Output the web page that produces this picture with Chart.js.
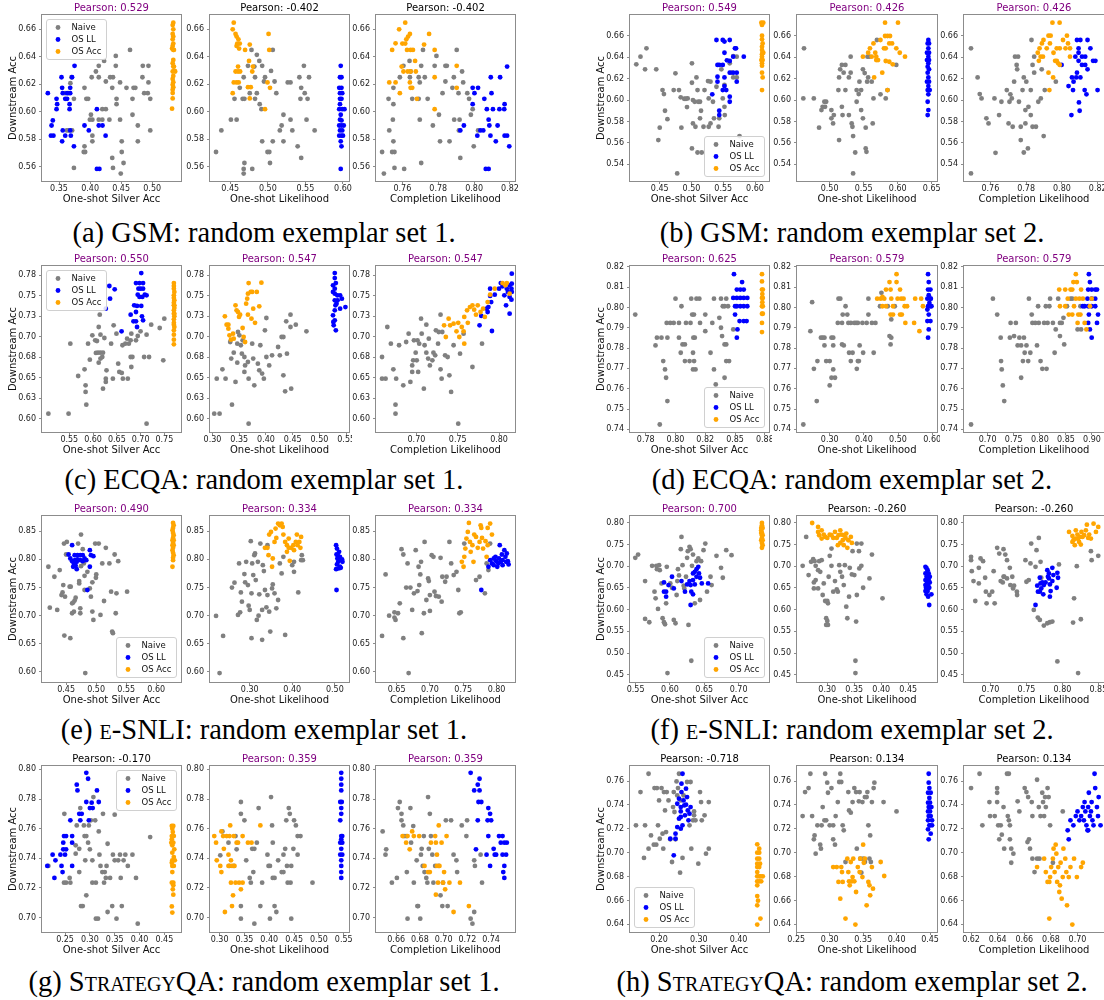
<!DOCTYPE html>
<html><head><meta charset="utf-8">
<script src="https://cdn.jsdelivr.net/npm/chart.js@4.4.1/dist/chart.umd.min.js"></script>
<style>
html,body{margin:0;padding:0;background:#fff;}
body{position:relative;width:1104px;height:1000px;overflow:hidden;}
canvas{position:absolute;}
.cap{position:absolute;font-family:'Liberation Serif','Times New Roman',serif;font-size:28.5px;line-height:32px;white-space:nowrap;color:#000;transform:translateX(-50%);}
.sc{font-variant:small-caps;}
</style></head><body>
<script>
// ---------------- DATA ----------------
const seriesNames = ['Naive','OS LL','OS Acc'];
const xTitles = ['One-shot Silver Acc','One-shot Likelihood','Completion Likelihood'];

// (a) GSM set 1
const a_yTicks=[0.56,0.58,0.60,0.62,0.64,0.66];
const a1_xTicks=[0.35,0.40,0.45,0.50], a2_xTicks=[0.45,0.50,0.55,0.60], a3_xTicks=[0.76,0.78,0.80,0.82];
const a1_naive=[[0.3597,0.6135],[0.3654,0.6135],[0.3683,0.6208],[0.37,0.6251],[0.3626,0.5864],[0.3654,0.5864],[0.3711,0.5864],[0.374,0.6094],[0.391,0.6174],[0.394,0.6094],[0.3969,0.6094],[0.4026,0.6251],[0.4014,0.5978],[0.4037,0.5942],[0.4037,0.5826],[0.3997,0.5942],[0.391,0.5748],[0.3898,0.5707],[0.3921,0.5707],[0.374,0.5591],[0.4094,0.6293],[0.414,0.6334],[0.4226,0.637],[0.414,0.6251],[0.4254,0.622],[0.4197,0.6019],[0.414,0.5942],[0.4197,0.5942],[0.4311,0.5942],[0.4254,0.6019],[0.4323,0.6251],[0.4369,0.6251],[0.4357,0.6174],[0.4426,0.6094],[0.4426,0.6055],[0.4414,0.6334],[0.4414,0.6406],[0.4483,0.6213],[0.4483,0.5942],[0.451,0.5785],[0.451,0.5707],[0.4539,0.5627],[0.4357,0.5664],[0.4369,0.5591],[0.4494,0.555],[0.4643,0.645],[0.4586,0.6174],[0.47,0.6174],[0.4729,0.6174],[0.4683,0.6094],[0.4683,0.5978],[0.4769,0.59],[0.4769,0.5785],[0.4849,0.6334],[0.494,0.6334],[0.4843,0.6251],[0.4871,0.6135],[0.4929,0.6135],[0.494,0.6213],[0.4969,0.6094],[0.4969,0.5864],[0.4037,0.5785]];
const a1_ll=[[0.332,0.6135],[0.346,0.6094],[0.347,0.6055],[0.346,0.6019],[0.340,0.5937],[0.338,0.59],[0.341,0.5826],[0.337,0.5826],[0.354,0.6251],[0.355,0.6174],[0.356,0.6135],[0.363,0.6135],[0.360,0.6094],[0.363,0.6094],[0.368,0.6135],[0.368,0.6174],[0.367,0.6055],[0.367,0.6019],[0.371,0.6251],[0.375,0.6334],[0.356,0.5864],[0.360,0.5826],[0.355,0.5785],[0.368,0.5864],[0.369,0.5826],[0.374,0.5748],[0.391,0.59],[0.398,0.5864],[0.411,0.6019],[0.414,0.59],[0.420,0.59],[0.425,0.5826],[0.411,0.5584],[0.415,0.5584]];
const a1_acc=[[0.534,0.6648],[0.533,0.6631],[0.534,0.66],[0.533,0.6566],[0.534,0.6547],[0.533,0.6527],[0.534,0.6496],[0.533,0.6479],[0.532,0.646],[0.535,0.645],[0.534,0.645],[0.534,0.6377],[0.533,0.6353],[0.534,0.6329],[0.536,0.6297],[0.533,0.6293],[0.534,0.6261],[0.533,0.6239],[0.534,0.6215],[0.533,0.6196],[0.534,0.6179],[0.533,0.616],[0.533,0.6136],[0.533,0.6097],[0.532,0.6022],[0.537,0.6293],[0.535,0.6329]];
const a2_naive=[[0.4311,0.5707],[0.4382,0.5864],[0.4509,0.5942],[0.4585,0.5942],[0.4557,0.6094],[0.4627,0.6174],[0.4679,0.6251],[0.4736,0.6334],[0.4783,0.645],[0.4854,0.6414],[0.4887,0.637],[0.4925,0.6334],[0.4821,0.6329],[0.483,0.6251],[0.4963,0.6251],[0.4949,0.622],[0.5043,0.6297],[0.5066,0.645],[0.4689,0.6094],[0.4665,0.6094],[0.476,0.6135],[0.4854,0.6135],[0.483,0.6094],[0.4892,0.6055],[0.4915,0.6019],[0.4689,0.5627],[0.4679,0.5584],[0.4679,0.555],[0.4793,0.5584],[0.4925,0.5785],[0.4996,0.5707],[0.502,0.5707],[0.5029,0.5627],[0.5066,0.5785],[0.509,0.622],[0.5113,0.6135],[0.516,0.5864],[0.5208,0.5978],[0.5208,0.5785],[0.5184,0.59],[0.5265,0.6213],[0.5302,0.6213],[0.5302,0.5942],[0.5326,0.5864],[0.5397,0.5748],[0.542,0.6251],[0.5444,0.6174],[0.5434,0.6094],[0.5444,0.5664],[0.548,0.6334],[0.5491,0.6135],[0.5515,0.5942],[0.5529,0.6094],[0.5548,0.6251],[0.5623,0.5864]];
const a2_ll=[[0.597,0.6334],[0.596,0.6251],[0.598,0.6251],[0.595,0.6174],[0.598,0.6174],[0.596,0.6135],[0.599,0.6135],[0.596,0.6094],[0.598,0.6094],[0.596,0.6055],[0.595,0.6019],[0.599,0.6019],[0.602,0.6019],[0.597,0.5978],[0.596,0.5942],[0.598,0.5937],[0.595,0.59],[0.598,0.59],[0.601,0.59],[0.596,0.5864],[0.599,0.5864],[0.595,0.5826],[0.598,0.5826],[0.600,0.5826],[0.597,0.5785],[0.598,0.5748],[0.597,0.5584]];
const a2_acc=[[0.4547,0.6648],[0.4533,0.66],[0.4571,0.6566],[0.4585,0.6547],[0.4609,0.6527],[0.4594,0.6496],[0.4627,0.6496],[0.4585,0.6479],[0.4618,0.646],[0.4698,0.645],[0.4604,0.6329],[0.4571,0.6293],[0.4604,0.6293],[0.4632,0.6293],[0.4547,0.6213],[0.4585,0.6213],[0.4613,0.6213],[0.4533,0.6135],[0.476,0.6489],[0.475,0.637],[0.4793,0.6293],[0.4802,0.6329],[0.4736,0.6179],[0.4774,0.6179],[0.476,0.6097],[0.4996,0.6213],[0.501,0.6566],[0.5019,0.645],[0.5029,0.6174],[0.4963,0.6019]];
const a3_naive=[[0.7487,0.5707],[0.7497,0.555],[0.755,0.5785],[0.7543,0.5707],[0.7556,0.5707],[0.7556,0.5591],[0.755,0.6174],[0.7523,0.6094],[0.7527,0.5864],[0.755,0.6055],[0.7547,0.5942],[0.761,0.5584],[0.7586,0.6251],[0.7606,0.6334],[0.764,0.637],[0.7646,0.6293],[0.7642,0.6251],[0.7655,0.6094],[0.7691,0.6251],[0.7697,0.6213],[0.7691,0.6094],[0.7705,0.6334],[0.7715,0.645],[0.7697,0.5942],[0.7705,0.5627],[0.7725,0.6251],[0.7741,0.6094],[0.777,0.59],[0.778,0.6334],[0.779,0.6406],[0.7804,0.5978],[0.781,0.5785],[0.7824,0.6135],[0.784,0.6334],[0.7848,0.6334],[0.784,0.622],[0.7863,0.5785],[0.7879,0.6174],[0.7887,0.6251],[0.7889,0.5942],[0.7903,0.645],[0.7913,0.6135],[0.7919,0.5942],[0.7915,0.5864],[0.7923,0.5664],[0.7939,0.6213],[0.7962,0.6135],[0.7972,0.6094],[0.7982,0.5978],[0.7992,0.6019],[0.7998,0.5748],[0.8022,0.5864],[0.7933,0.6293]];
const a3_ll=[[0.7923,0.5864],[0.7943,0.59],[0.7992,0.6055],[0.7992,0.6174],[0.8002,0.6135],[0.8022,0.6174],[0.8018,0.5826],[0.8051,0.5864],[0.8057,0.6094],[0.8071,0.6019],[0.8081,0.5942],[0.8085,0.59],[0.8091,0.5826],[0.8097,0.6135],[0.8093,0.6251],[0.8105,0.6019],[0.8121,0.5785],[0.8131,0.59],[0.8145,0.6251],[0.8141,0.6019],[0.8168,0.6019],[0.817,0.6055],[0.817,0.5826],[0.8184,0.5826],[0.8184,0.6329],[0.8196,0.5748],[0.8065,0.5584],[0.8081,0.5584],[0.8035,0.5864]];
const a3_acc=[[0.7616,0.6648],[0.7582,0.66],[0.7562,0.6498],[0.7543,0.645],[0.76,0.6496],[0.7616,0.6496],[0.7622,0.6527],[0.7632,0.6547],[0.7642,0.6566],[0.7626,0.645],[0.7646,0.645],[0.7659,0.645],[0.7596,0.6329],[0.7606,0.6293],[0.763,0.6293],[0.7646,0.6293],[0.7675,0.6293],[0.7527,0.6213],[0.7562,0.6213],[0.7642,0.6213],[0.7646,0.6174],[0.7655,0.6174],[0.7671,0.637],[0.7586,0.6135],[0.7721,0.6489],[0.778,0.645],[0.778,0.6251],[0.7749,0.6566],[0.7681,0.6094],[0.778,0.6019],[0.7903,0.6334],[0.7903,0.6174]];

// (b) GSM set 2
const b_yTicks=[0.54,0.56,0.58,0.60,0.62,0.64,0.66];
const b1_xTicks=[0.45,0.50,0.55,0.60], b2_xTicks=[0.50,0.55,0.60,0.65], b3_xTicks=[0.76,0.78,0.80,0.82];
const b1_naive=[[0.4131,0.6333],[0.4197,0.6404],[0.4291,0.6482],[0.4269,0.6286],[0.4445,0.6286],[0.4478,0.5627],[0.45,0.5742],[0.4544,0.6093],[0.4566,0.6056],[0.4583,0.59],[0.4621,0.5822],[0.472,0.6093],[0.4747,0.6249],[0.4803,0.6093],[0.483,0.6025],[0.4841,0.5742],[0.4885,0.6012],[0.4913,0.6012],[0.4929,0.5934],[0.494,0.6015],[0.5007,0.6342],[0.5007,0.6161],[0.5023,0.60],[0.5007,0.5549],[0.5023,0.5782],[0.5051,0.5984],[0.5062,0.5751],[0.5078,0.6211],[0.5095,0.6093],[0.5106,0.5984],[0.5134,0.5984],[0.5134,0.5829],[0.515,0.59],[0.5095,0.5511],[0.5161,0.5511],[0.5189,0.5751],[0.5205,0.6093],[0.526,0.6177],[0.5299,0.6171],[0.5271,0.6015],[0.5271,0.5751],[0.5299,0.5782],[0.5338,0.5984],[0.5354,0.5829],[0.5393,0.6124],[0.5437,0.5829],[0.5426,0.5751],[0.547,0.6286],[0.5492,0.6015],[0.5519,0.614],[0.5524,0.586],[0.5519,0.5937],[0.5602,0.6342],[0.563,0.6255],[0.5657,0.6211],[0.5657,0.641],[0.5712,0.6404],[0.5712,0.6211],[0.5756,0.5664],[0.4775,0.5316]];
const b1_ll=[[0.5393,0.656],[0.5492,0.656],[0.5519,0.6545],[0.5602,0.656],[0.5409,0.6327],[0.5437,0.6327],[0.5492,0.6327],[0.5519,0.6441],[0.5558,0.637],[0.5602,0.6364],[0.5657,0.6404],[0.5701,0.6482],[0.5684,0.6482],[0.5823,0.6404],[0.5409,0.6217],[0.5409,0.6171],[0.5519,0.6211],[0.5602,0.6255],[0.5657,0.6255],[0.5712,0.6255],[0.5712,0.6171],[0.5492,0.6093],[0.5519,0.613],[0.5547,0.6093],[0.5602,0.6031],[0.5602,0.5984],[0.5327,0.6053],[0.5437,0.59],[0.5437,0.586]];
const b1_acc=[[0.610,0.6721],[0.613,0.6721],[0.611,0.67],[0.611,0.66],[0.611,0.6566],[0.612,0.6528],[0.611,0.6497],[0.611,0.6466],[0.612,0.6441],[0.611,0.6428],[0.611,0.6404],[0.612,0.6373],[0.611,0.6342],[0.611,0.632],[0.611,0.6255],[0.612,0.6211],[0.611,0.6093],[0.613,0.6441],[0.610,0.6373]];
const b2_naive=[[0.4614,0.6015],[0.4768,0.6015],[0.4624,0.6482],[0.4845,0.5742],[0.488,0.5906],[0.4897,0.5937],[0.4923,0.5984],[0.4949,0.5984],[0.4933,0.5937],[0.5026,0.5906],[0.5026,0.5829],[0.5051,0.5782],[0.5062,0.586],[0.5129,0.6093],[0.5139,0.6211],[0.5155,0.6286],[0.5139,0.5627],[0.518,0.6327],[0.5232,0.6327],[0.5206,0.6255],[0.518,0.5937],[0.519,0.586],[0.5232,0.6093],[0.5283,0.6211],[0.5283,0.586],[0.5309,0.6255],[0.5324,0.5782],[0.5335,0.5751],[0.5345,0.5664],[0.5376,0.5511],[0.5397,0.6093],[0.5397,0.5984],[0.5427,0.6056],[0.5438,0.6171],[0.5463,0.6093],[0.5463,0.5906],[0.5489,0.5829],[0.5489,0.6286],[0.5515,0.6251],[0.553,0.5742],[0.553,0.5549],[0.5541,0.5517],[0.5551,0.6171],[0.5566,0.6211],[0.5556,0.6404],[0.5582,0.6404],[0.5618,0.6171],[0.5644,0.6015],[0.5633,0.5782],[0.5747,0.6053],[0.5824,0.6015],[0.585,0.6093],[0.5979,0.6327],[0.5309,0.6404],[0.5345,0.5316],[0.5695,0.656]];
const b2_ll=[[0.645,0.656],[0.644,0.6528],[0.646,0.6528],[0.645,0.6482],[0.643,0.6441],[0.646,0.6441],[0.645,0.6404],[0.643,0.6373],[0.646,0.6373],[0.645,0.6342],[0.644,0.6311],[0.646,0.6286],[0.644,0.6255],[0.645,0.6211],[0.643,0.6171],[0.646,0.6171],[0.645,0.613],[0.644,0.6093],[0.647,0.6093],[0.645,0.6053],[0.644,0.5984],[0.645,0.5906],[0.644,0.586]];
const b2_acc=[[0.5489,0.6404],[0.5566,0.6441],[0.5592,0.6482],[0.5644,0.6528],[0.5618,0.6404],[0.567,0.6441],[0.5685,0.6404],[0.5685,0.6373],[0.5711,0.6373],[0.5747,0.656],[0.5798,0.6482],[0.5824,0.6482],[0.5814,0.6597],[0.585,0.6597],[0.5814,0.6721],[0.5887,0.6597],[0.5876,0.6528],[0.5917,0.6528],[0.5979,0.6482],[0.5927,0.6333],[0.5824,0.6364],[0.5773,0.6255],[0.5654,0.6211],[0.603,0.6441],[0.6004,0.6721],[0.6107,0.6404],[0.585,0.6093],[0.5876,0.6357]];
const b3_naive=[[0.7492,0.6482],[0.7492,0.5316],[0.7529,0.6211],[0.7541,0.6056],[0.7551,0.6015],[0.7578,0.5829],[0.759,0.5782],[0.7629,0.5508],[0.7623,0.6015],[0.7649,0.586],[0.7662,0.5984],[0.7692,0.6093],[0.7702,0.5782],[0.7707,0.5984],[0.7712,0.6053],[0.772,0.6015],[0.7725,0.5751],[0.7733,0.6171],[0.7747,0.6327],[0.775,0.6286],[0.7755,0.6404],[0.7738,0.6404],[0.776,0.5984],[0.777,0.5627],[0.777,0.5751],[0.778,0.6093],[0.7787,0.6211],[0.7787,0.5511],[0.7796,0.5906],[0.7796,0.5782],[0.7801,0.6171],[0.781,0.5549],[0.7813,0.5937],[0.7826,0.6093],[0.7826,0.586],[0.7836,0.5751],[0.7836,0.6327],[0.7845,0.6404],[0.7845,0.6255],[0.7855,0.5751],[0.7868,0.5984],[0.7882,0.6015],[0.7898,0.5664],[0.7904,0.6093],[0.7887,0.6286],[0.7966,0.6171],[0.783,0.656]];
const b3_ll=[[0.8084,0.656],[0.8103,0.656],[0.8143,0.656],[0.8093,0.6482],[0.8159,0.6482],[0.8093,0.6441],[0.8112,0.6404],[0.813,0.6404],[0.8075,0.6404],[0.8093,0.6366],[0.8174,0.6366],[0.8187,0.6366],[0.8112,0.6327],[0.813,0.6327],[0.8143,0.6286],[0.8084,0.6255],[0.8056,0.6211],[0.808,0.6211],[0.8103,0.6211],[0.8065,0.6171],[0.8037,0.613],[0.8062,0.6093],[0.8127,0.6093],[0.8137,0.6053],[0.8199,0.6093],[0.8095,0.5978],[0.8099,0.59],[0.8053,0.586],[0.7998,0.6327]];
const b3_acc=[[0.7947,0.6721],[0.7987,0.6721],[0.7925,0.66],[0.7937,0.66],[0.7897,0.656],[0.7888,0.6528],[0.7875,0.6482],[0.7865,0.6441],[0.7915,0.6482],[0.7933,0.6528],[0.7971,0.6482],[0.7988,0.6482],[0.8006,0.656],[0.8028,0.66],[0.8034,0.6528],[0.802,0.6482],[0.8045,0.6482],[0.7953,0.6441],[0.7894,0.6404],[0.7871,0.6366],[0.7962,0.6366],[0.7971,0.6366],[0.7979,0.6342],[0.7988,0.6327],[0.8045,0.6404],[0.7925,0.6255],[0.7951,0.6211],[0.793,0.6093],[0.7881,0.6404]];

// (c) ECQA set 1
const c_yTicks=[0.600,0.625,0.650,0.675,0.700,0.725,0.750,0.775];
const c_yLabels=['0.60','0.63','0.65','0.68','0.70','0.73','0.75','0.78'];
const c1_xTicks=[0.55,0.60,0.65,0.70,0.75], c2_xTicks=[0.30,0.35,0.40,0.45,0.50,0.55], c3_xTicks=[0.70,0.75,0.80];
const c1_naive=[[0.506,0.6061],[0.5485,0.6061],[0.5522,0.6916],[0.5687,0.6521],[0.5821,0.6602],[0.5843,0.6407],[0.5843,0.6326],[0.5858,0.6171],[0.5895,0.6916],[0.5932,0.672],[0.5985,0.7017],[0.6045,0.6956],[0.6082,0.6948],[0.6104,0.6806],[0.6156,0.7025],[0.6119,0.7119],[0.6141,0.727],[0.606,0.6802],[0.6119,0.6684],[0.6156,0.6733],[0.6194,0.6753],[0.6156,0.6806],[0.6209,0.6806],[0.6209,0.6366],[0.6268,0.6488],[0.6268,0.6448],[0.6283,0.659],[0.6238,0.6985],[0.638,0.6916],[0.6433,0.7139],[0.6492,0.7038],[0.6529,0.6671],[0.6417,0.6488],[0.6552,0.657],[0.6604,0.6558],[0.6619,0.6896],[0.6627,0.6488],[0.6679,0.6916],[0.6716,0.6977],[0.6753,0.6916],[0.6791,0.6956],[0.6805,0.7038],[0.6731,0.6488],[0.6791,0.6753],[0.6828,0.6753],[0.6805,0.6631],[0.6903,0.6956],[0.694,0.7009],[0.6999,0.7066],[0.7074,0.6753],[0.7126,0.7025],[0.7178,0.6753],[0.7126,0.5939],[0.7223,0.7148],[0.7402,0.7107],[0.7477,0.6712],[0.7499,0.7221]];
const c1_ll=[[0.6343,0.762],[0.6455,0.7579],[0.6358,0.7465],[0.6268,0.7343],[0.7014,0.7778],[0.6903,0.7656],[0.6977,0.7656],[0.7052,0.7656],[0.6955,0.7587],[0.6999,0.7587],[0.7052,0.7587],[0.694,0.7514],[0.6977,0.7486],[0.7037,0.7486],[0.7089,0.7514],[0.7126,0.7506],[0.6865,0.7384],[0.6925,0.7376],[0.7014,0.7376],[0.6791,0.727],[0.6903,0.7302],[0.7029,0.725],[0.685,0.7188],[0.6903,0.7188],[0.6925,0.7119],[0.7052,0.7201],[0.66,0.7066]];
const c1_acc=[[0.770,0.7656],[0.770,0.762],[0.770,0.7587],[0.771,0.7547],[0.770,0.7506],[0.770,0.7473],[0.771,0.7445],[0.770,0.7416],[0.770,0.7384],[0.771,0.7351],[0.770,0.7323],[0.770,0.7282],[0.771,0.725],[0.770,0.7213],[0.770,0.717],[0.770,0.7148],[0.771,0.7119],[0.770,0.7078],[0.770,0.7026],[0.770,0.6964],[0.770,0.6908],[0.771,0.7384],[0.771,0.7282]];
const c2_naive=[[0.3033,0.6061],[0.3133,0.6061],[0.308,0.6488],[0.3186,0.6602],[0.3245,0.6488],[0.3332,0.6936],[0.3351,0.6733],[0.3365,0.6171],[0.3431,0.6448],[0.3398,0.6806],[0.3464,0.6916],[0.3477,0.7058],[0.3504,0.7017],[0.353,0.6896],[0.3564,0.6956],[0.355,0.6794],[0.3464,0.6684],[0.3597,0.6753],[0.361,0.665],[0.3597,0.657],[0.3663,0.6692],[0.3676,0.6488],[0.3676,0.5939],[0.3743,0.6916],[0.3762,0.6733],[0.3782,0.6407],[0.3849,0.6671],[0.3875,0.659],[0.3895,0.6896],[0.3928,0.655],[0.3961,0.6488],[0.3981,0.7078],[0.4008,0.7229],[0.4008,0.6753],[0.4061,0.665],[0.4114,0.6773],[0.4227,0.6875],[0.426,0.6773],[0.4293,0.6997],[0.4326,0.6997],[0.4326,0.6529],[0.4359,0.6334],[0.4393,0.6794],[0.4379,0.7188],[0.4459,0.727],[0.4459,0.7119],[0.4472,0.6366],[0.4558,0.7148],[0.4757,0.7066]];
const c2_ll=[[0.5287,0.7778],[0.5287,0.7717],[0.5307,0.7656],[0.5254,0.7628],[0.5287,0.7587],[0.5254,0.7547],[0.5287,0.7526],[0.5334,0.7506],[0.5387,0.7506],[0.542,0.7465],[0.5287,0.7445],[0.532,0.7404],[0.5387,0.7343],[0.5486,0.7363],[0.5287,0.7323],[0.5254,0.7262],[0.5287,0.7201],[0.5267,0.714],[0.5307,0.7078],[0.53,0.7384],[0.534,0.7445],[0.526,0.718]];
const c2_acc=[[0.3232,0.725],[0.3265,0.7148],[0.3298,0.7148],[0.3318,0.7017],[0.3298,0.7099],[0.3345,0.6964],[0.3385,0.7038],[0.3398,0.6977],[0.3431,0.7384],[0.3451,0.7323],[0.3477,0.7302],[0.3497,0.7242],[0.3517,0.727],[0.3564,0.7107],[0.3583,0.6997],[0.361,0.6936],[0.363,0.7404],[0.365,0.7465],[0.3663,0.7526],[0.3676,0.7656],[0.3716,0.7547],[0.3743,0.7547],[0.3762,0.7343],[0.3729,0.7221],[0.3796,0.717],[0.3829,0.7547],[0.3915,0.766],[0.3875,0.7372],[0.3663,0.727]];
const c3_naive=[[0.6584,0.6753],[0.6584,0.6488],[0.6627,0.6488],[0.6648,0.7119],[0.6691,0.6916],[0.6721,0.6602],[0.6747,0.6171],[0.6747,0.6061],[0.6755,0.6488],[0.679,0.6896],[0.6841,0.6407],[0.6876,0.6936],[0.6906,0.7038],[0.6927,0.6448],[0.6949,0.665],[0.6949,0.657],[0.697,0.6956],[0.6961,0.6712],[0.6991,0.6806],[0.7004,0.6712],[0.7013,0.6956],[0.7021,0.657],[0.7034,0.6916],[0.7056,0.7221],[0.7064,0.7038],[0.709,0.6366],[0.7099,0.6896],[0.712,0.7148],[0.712,0.6806],[0.7142,0.6733],[0.715,0.6977],[0.7163,0.665],[0.7193,0.6712],[0.7206,0.6806],[0.7227,0.6773],[0.7236,0.7078],[0.7262,0.6916],[0.727,0.7058],[0.7292,0.727],[0.7292,0.6602],[0.7305,0.6488],[0.7313,0.7058],[0.7347,0.6773],[0.7378,0.6753],[0.7399,0.6529],[0.742,0.6326],[0.745,0.6896],[0.7506,0.5939],[0.7528,0.6794],[0.7571,0.7038],[0.7678,0.6631],[0.7794,0.6916]];
const c3_ll=[[0.7764,0.714],[0.7785,0.7254],[0.785,0.7343],[0.7862,0.7302],[0.7871,0.7363],[0.7892,0.7587],[0.7892,0.7498],[0.7905,0.7424],[0.7914,0.707],[0.7948,0.7514],[0.80,0.7587],[0.8021,0.7656],[0.8042,0.7616],[0.8064,0.7506],[0.8094,0.7587],[0.8107,0.7547],[0.8128,0.7628],[0.8128,0.7486],[0.815,0.7587],[0.815,0.7453],[0.8128,0.7282],[0.8154,0.777],[0.8154,0.7648],[0.8085,0.7384],[0.8154,0.7547]];
const c3_acc=[[0.7335,0.714],[0.739,0.7221],[0.7408,0.714],[0.745,0.716],[0.7506,0.717],[0.7485,0.7066],[0.7549,0.7119],[0.7579,0.7242],[0.7613,0.7323],[0.7648,0.7363],[0.7678,0.7384],[0.7699,0.7331],[0.7721,0.727],[0.7742,0.7384],[0.7776,0.7302],[0.7807,0.7343],[0.7828,0.7242],[0.7862,0.7424],[0.7892,0.7514],[0.7948,0.7587],[0.8042,0.7656],[0.8077,0.7628],[0.8094,0.7656],[0.8128,0.7526],[0.7579,0.6916],[0.7356,0.6997],[0.7519,0.6997],[0.7571,0.7066],[0.7622,0.717]];

// (d) ECQA set 2
const d_yTicks=[0.74,0.75,0.76,0.77,0.78,0.79,0.80,0.81,0.82];
const d1_xTicks=[0.775,0.800,0.825,0.850,0.875], d1_xLabels=['0.78','0.80','0.82','0.85','0.88'];
const d2_xTicks=[0.30,0.40,0.50,0.60], d3_xTicks=[0.70,0.75,0.80,0.85,0.90];
const d1_naive=[[0.7662,0.7965],[0.7832,0.7813],[0.7844,0.7851],[0.7882,0.7851],[0.7897,0.7736],[0.7912,0.7695],[0.7921,0.7654],[0.7932,0.7539],[0.7868,0.7424],[0.7926,0.7924],[0.7932,0.7851],[0.7956,0.7924],[0.80,0.8043],[0.7985,0.7924],[0.8029,0.7924],[0.8029,0.7851],[0.8044,0.7777],[0.8059,0.7818],[0.8079,0.7818],[0.805,0.8006],[0.8088,0.7924],[0.8079,0.7736],[0.8118,0.7736],[0.8132,0.8043],[0.8126,0.7924],[0.814,0.7965],[0.8155,0.7965],[0.815,0.7851],[0.8162,0.7851],[0.8147,0.7777],[0.8147,0.7695],[0.8168,0.7695],[0.8156,0.7736],[0.8176,0.8043],[0.82,0.8043],[0.8206,0.7924],[0.825,0.7965],[0.825,0.7883],[0.8294,0.7777],[0.8309,0.7924],[0.8323,0.8043],[0.8323,0.7695],[0.8338,0.7621],[0.8368,0.7949],[0.8382,0.8043],[0.8382,0.79],[0.8391,0.7859],[0.8397,0.8006],[0.8412,0.8006],[0.8412,0.7818],[0.8426,0.7818],[0.8426,0.7736],[0.8412,0.7654],[0.845,0.7736],[0.8426,0.8043],[0.8441,0.8006],[0.8485,0.7892]];
const d1_ll=[[0.8491,0.8164],[0.8559,0.8125],[0.8515,0.8088],[0.8544,0.8088],[0.8573,0.8088],[0.8485,0.8047],[0.8515,0.8047],[0.8544,0.8047],[0.8573,0.8047],[0.8603,0.8047],[0.85,0.8006],[0.8515,0.8006],[0.8544,0.8006],[0.8573,0.8006],[0.8603,0.8006],[0.85,0.7965],[0.8538,0.7933],[0.8573,0.7933],[0.8597,0.7933],[0.852,0.7892],[0.8515,0.7851]];
const d1_acc=[[0.8726,0.8164],[0.8726,0.8128],[0.8726,0.8088],[0.8733,0.8088],[0.8726,0.8047],[0.8733,0.8047],[0.8726,0.8006],[0.8733,0.8006],[0.8726,0.7969],[0.8733,0.7969],[0.8726,0.7924],[0.8726,0.7879],[0.8729,0.8026],[0.8729,0.8066]];
const d2_naive=[[0.2227,0.7424],[0.2485,0.8026],[0.2434,0.7883],[0.2537,0.7698],[0.264,0.7736],[0.262,0.7539],[0.2743,0.7851],[0.2794,0.7851],[0.2846,0.7851],[0.2846,0.7813],[0.2897,0.7736],[0.30,0.7736],[0.3052,0.7851],[0.3103,0.7851],[0.30,0.7616],[0.3052,0.7654],[0.3103,0.7695],[0.3155,0.7654],[0.3103,0.7813],[0.3237,0.7924],[0.3258,0.8043],[0.331,0.8043],[0.3361,0.7924],[0.3381,0.7965],[0.3361,0.7818],[0.3412,0.7813],[0.3464,0.8006],[0.3515,0.7965],[0.3546,0.7924],[0.3618,0.7924],[0.3567,0.7777],[0.367,0.7777],[0.3618,0.7736],[0.3721,0.7924],[0.3773,0.7924],[0.3824,0.7736],[0.3793,0.7698],[0.3855,0.7736],[0.3876,0.7813],[0.3824,0.7924],[0.3958,0.7924],[0.3979,0.7777],[0.4082,0.7924],[0.4133,0.8043],[0.4133,0.7965],[0.4236,0.7924],[0.4288,0.7777],[0.4339,0.7924],[0.4473,0.8006],[0.4514,0.8072],[0.4803,0.7851],[0.4751,0.7859],[0.4782,0.7818],[0.4803,0.7941],[0.47,0.8006],[0.4906,0.8006]];
const d2_ll=[[0.588,0.8164],[0.590,0.8125],[0.588,0.8088],[0.595,0.8088],[0.590,0.806],[0.586,0.8043],[0.595,0.8043],[0.588,0.8006],[0.594,0.8006],[0.598,0.8006],[0.586,0.799],[0.590,0.7965],[0.586,0.7933],[0.595,0.7933],[0.590,0.7892],[0.588,0.7851],[0.596,0.8043],[0.592,0.8022]];
const d2_acc=[[0.439,0.8043],[0.4494,0.8043],[0.4545,0.8052],[0.4648,0.8088],[0.4597,0.8043],[0.4648,0.8006],[0.4751,0.8125],[0.4782,0.8088],[0.4803,0.8043],[0.4854,0.8006],[0.4545,0.8006],[0.4957,0.8164],[0.4957,0.8125],[0.506,0.8088],[0.4988,0.8043],[0.5091,0.8043],[0.5163,0.8043],[0.5194,0.8006],[0.5112,0.7965],[0.506,0.7965],[0.4854,0.7965],[0.4782,0.7965],[0.5266,0.8006],[0.5503,0.8043],[0.5678,0.8043],[0.573,0.8006],[0.5215,0.7924],[0.5472,0.7924],[0.5627,0.7883]];
const d3_naive=[[0.6682,0.7424],[0.7101,0.8043],[0.7183,0.7965],[0.725,0.7851],[0.7257,0.7736],[0.727,0.7695],[0.7291,0.7616],[0.7318,0.7539],[0.7426,0.7851],[0.744,0.7924],[0.7541,0.7924],[0.7575,0.7813],[0.7608,0.7851],[0.7642,0.7813],[0.7676,0.7736],[0.7696,0.7851],[0.771,0.7777],[0.7744,0.7813],[0.7642,0.7654],[0.7777,0.7736],[0.7791,0.8043],[0.7818,0.7777],[0.7845,0.7965],[0.7858,0.7924],[0.7913,0.7924],[0.7946,0.7813],[0.7967,0.8006],[0.798,0.7924],[0.8014,0.7736],[0.8048,0.7698],[0.8082,0.7924],[0.8115,0.8006],[0.8129,0.7698],[0.8149,0.7924],[0.8183,0.8006],[0.8197,0.8043],[0.8251,0.7924],[0.8284,0.7777],[0.8305,0.7892],[0.8352,0.8043],[0.8386,0.7924],[0.8386,0.7859],[0.842,0.7924],[0.8453,0.7949],[0.8467,0.7818],[0.8521,0.8006],[0.8589,0.8043],[0.8622,0.8043],[0.8724,0.7892],[0.8791,0.7892],[0.8778,0.8006],[0.7507,0.7859]];
const d3_ll=[[0.894,0.8164],[0.896,0.8125],[0.8927,0.8088],[0.8994,0.8088],[0.9062,0.8088],[0.9096,0.8088],[0.8913,0.8043],[0.8994,0.8043],[0.9062,0.8043],[0.8859,0.8006],[0.8927,0.8006],[0.8994,0.8006],[0.9062,0.8006],[0.9116,0.7965],[0.894,0.7965],[0.8927,0.7924],[0.9096,0.7924],[0.8994,0.7851],[0.896,0.7892],[0.8825,0.8006]];
const d3_acc=[[0.8372,0.8088],[0.8487,0.8088],[0.8535,0.8043],[0.8589,0.8088],[0.8643,0.8125],[0.869,0.8164],[0.871,0.8125],[0.8622,0.8088],[0.8386,0.8006],[0.8487,0.8006],[0.8555,0.7965],[0.8622,0.7965],[0.8656,0.8006],[0.869,0.8043],[0.8724,0.7924],[0.8758,0.8043],[0.8778,0.7965],[0.8825,0.8043],[0.8859,0.7924],[0.8893,0.7892],[0.896,0.8006],[0.8994,0.8043],[0.8791,0.8088],[0.8737,0.7965]];

// (e) e-SNLI set 1
const e_yTicks=[0.60,0.65,0.70,0.75,0.80,0.85];
const e1_xTicks=[0.45,0.50,0.55,0.60], e2_xTicks=[0.30,0.40,0.50], e3_xTicks=[0.65,0.70,0.75,0.80];
const e1_naive=[[0.4205,0.7869],[0.4229,0.7143],[0.4305,0.7692],[0.4352,0.7102],[0.4394,0.781],[0.4423,0.7367],[0.4441,0.7414],[0.4453,0.7544],[0.4465,0.8282],[0.4471,0.6647],[0.4482,0.7338],[0.4512,0.8311],[0.45,0.8087],[0.4559,0.7515],[0.457,0.66],[0.4577,0.7515],[0.46,0.7043],[0.46,0.722],[0.4618,0.7233],[0.463,0.7072],[0.4642,0.7268],[0.4659,0.732],[0.47,0.8282],[0.4718,0.7615],[0.4718,0.7574],[0.4736,0.7131],[0.4736,0.7043],[0.4748,0.8441],[0.4748,0.788],[0.4777,0.8181],[0.4795,0.7928],[0.4807,0.7709],[0.4807,0.7456],[0.4819,0.5981],[0.4854,0.778],[0.4913,0.7338],[0.4937,0.7592],[0.4937,0.7073],[0.4954,0.6925],[0.4984,0.8282],[0.4996,0.7674],[0.5002,0.7733],[0.5043,0.8282],[0.5072,0.7013],[0.5102,0.7928],[0.5131,0.7261],[0.5161,0.8205],[0.522,0.7928],[0.5249,0.7426],[0.5267,0.6718],[0.5279,0.6689],[0.5308,0.8087],[0.5326,0.7043],[0.5338,0.7397],[0.5367,0.7969],[0.5515,0.7426],[0.4895,0.7485]];
const e1_ll=[[0.46,0.8252],[0.4541,0.8087],[0.457,0.8016],[0.46,0.7969],[0.463,0.7928],[0.4659,0.7886],[0.4677,0.7827],[0.4618,0.7869],[0.4642,0.8075],[0.4689,0.8075],[0.4736,0.8075],[0.4777,0.8075],[0.4689,0.80],[0.4736,0.7987],[0.4777,0.7969],[0.4807,0.8016],[0.4836,0.7987],[0.4895,0.8164],[0.4913,0.8075],[0.4954,0.8058],[0.4895,0.7869],[0.4854,0.7456],[0.4677,0.7957],[0.4648,0.7987]];
const e1_acc=[[0.628,0.8648],[0.629,0.8606],[0.628,0.8559],[0.627,0.8518],[0.628,0.847],[0.629,0.8429],[0.628,0.8382],[0.627,0.8341],[0.628,0.8294],[0.629,0.8252],[0.628,0.8205],[0.627,0.8164],[0.628,0.8117],[0.629,0.8075],[0.628,0.8028],[0.628,0.7987],[0.627,0.7869],[0.629,0.8341],[0.627,0.8252]];
const e2_naive=[[0.2209,0.6995],[0.2375,0.6641],[0.2583,0.75],[0.2642,0.7586],[0.2725,0.7013],[0.275,0.7928],[0.2775,0.706],[0.2792,0.7414],[0.2817,0.7249],[0.2875,0.7739],[0.2892,0.7592],[0.2917,0.7957],[0.2958,0.7544],[0.2975,0.7178],[0.30,0.7102],[0.3025,0.8323],[0.3042,0.7397],[0.3042,0.66],[0.3058,0.7928],[0.3083,0.7721],[0.3108,0.8075],[0.3125,0.8105],[0.3142,0.7633],[0.3167,0.6925],[0.3192,0.7957],[0.3208,0.7001],[0.3225,0.7379],[0.325,0.8282],[0.3292,0.7102],[0.3308,0.7898],[0.3333,0.7792],[0.3358,0.7456],[0.3392,0.7149],[0.3417,0.8252],[0.3417,0.7367],[0.3458,0.7072],[0.3483,0.6718],[0.3525,0.7485],[0.3542,0.7556],[0.3583,0.7397],[0.3625,0.7131],[0.3667,0.7279],[0.3708,0.7928],[0.375,0.7751],[0.3791,0.8046],[0.3833,0.6659],[0.3999,0.7898],[0.4041,0.7957],[0.4041,0.778],[0.4141,0.7414],[0.4208,0.7987],[0.4249,0.7987],[0.4225,0.8075],[0.2292,0.5981],[0.3292,0.6571]];
const e2_ll=[[0.503,0.8252],[0.505,0.8193],[0.510,0.8134],[0.504,0.8087],[0.512,0.8046],[0.506,0.8016],[0.515,0.7987],[0.508,0.7957],[0.518,0.7957],[0.505,0.791],[0.512,0.7869],[0.503,0.7827],[0.509,0.7839],[0.517,0.80],[0.504,0.7456],[0.507,0.8075],[0.514,0.785]];
const e2_acc=[[0.3358,0.8205],[0.3417,0.8205],[0.3458,0.8441],[0.35,0.8488],[0.3442,0.8075],[0.3542,0.8016],[0.3583,0.8311],[0.3625,0.8382],[0.3608,0.8547],[0.3667,0.8636],[0.3708,0.8606],[0.375,0.8636],[0.3775,0.8577],[0.3791,0.8441],[0.3833,0.8311],[0.3875,0.8252],[0.3916,0.8205],[0.3916,0.837],[0.3975,0.8205],[0.4025,0.8252],[0.4041,0.8164],[0.4083,0.8311],[0.4108,0.8441],[0.4125,0.8252],[0.4166,0.8311],[0.4191,0.8205],[0.4208,0.84],[0.3941,0.7975],[0.3525,0.7869],[0.3875,0.8134]];
const e3_naive=[[0.6282,0.6641],[0.6335,0.7733],[0.6388,0.7001],[0.6468,0.6966],[0.6468,0.706],[0.6484,0.6925],[0.6521,0.7043],[0.6548,0.722],[0.6574,0.8181],[0.6601,0.8087],[0.6601,0.66],[0.6644,0.75],[0.6665,0.7928],[0.6681,0.5981],[0.6707,0.75],[0.6734,0.7102],[0.6761,0.7397],[0.6787,0.8164],[0.6814,0.7438],[0.683,0.7869],[0.684,0.7544],[0.6856,0.7733],[0.6867,0.7957],[0.6878,0.6689],[0.691,0.7043],[0.692,0.8311],[0.6947,0.7279],[0.6973,0.7662],[0.6984,0.7615],[0.70,0.7084],[0.70,0.7367],[0.7027,0.8075],[0.7053,0.8046],[0.7069,0.7426],[0.709,0.735],[0.7133,0.7338],[0.716,0.8028],[0.7176,0.7249],[0.7186,0.7692],[0.7229,0.7603],[0.725,0.7692],[0.7293,0.8311],[0.7319,0.7928],[0.7357,0.7721],[0.7399,0.778],[0.7426,0.7456],[0.7442,0.7043],[0.7463,0.706],[0.7516,0.8282],[0.7692,0.7633],[0.7851,0.7928],[0.7904,0.8282],[0.7878,0.781],[0.7825,0.7397],[0.7745,0.7692]];
const e3_ll=[[0.7771,0.7456],[0.7878,0.7869],[0.7904,0.7987],[0.7931,0.7928],[0.7958,0.7898],[0.7984,0.8046],[0.7995,0.7969],[0.8027,0.7928],[0.8037,0.8016],[0.8048,0.8252],[0.8064,0.7957],[0.808,0.8087],[0.8091,0.7898],[0.8117,0.8164],[0.8133,0.8046],[0.8144,0.7957],[0.8154,0.8105],[0.817,0.7969],[0.8181,0.791],[0.7958,0.8016],[0.8011,0.7869],[0.8091,0.7987]];
const e3_acc=[[0.7505,0.7869],[0.7516,0.8046],[0.7532,0.8193],[0.7548,0.837],[0.7569,0.8488],[0.7585,0.8648],[0.7601,0.8311],[0.7612,0.8134],[0.7638,0.8252],[0.7665,0.8441],[0.7692,0.84],[0.7718,0.8205],[0.7745,0.8311],[0.7761,0.8606],[0.7771,0.8559],[0.7782,0.8382],[0.7798,0.8193],[0.7835,0.8323],[0.7867,0.8559],[0.7904,0.8636],[0.7931,0.8441],[0.7867,0.8252],[0.7851,0.8046],[0.7654,0.7957],[0.7479,0.7957]];

// (f) e-SNLI set 2
const f_yTicks=[0.45,0.50,0.55,0.60,0.65,0.70,0.75,0.80];
const f1_xTicks=[0.55,0.60,0.65,0.70], f2_xTicks=[0.30,0.35,0.40,0.45], f3_xTicks=[0.70,0.75,0.80,0.85];
const f1_naive=[[0.5495,0.7196],[0.5536,0.7272],[0.5638,0.6659],[0.5638,0.5786],[0.5699,0.571],[0.574,0.7012],[0.5775,0.6414],[0.5801,0.7012],[0.5811,0.6935],[0.5842,0.7027],[0.5791,0.6261],[0.5826,0.6016],[0.5852,0.6912],[0.5877,0.6606],[0.5893,0.5802],[0.5913,0.571],[0.5928,0.5664],[0.5944,0.6146],[0.5954,0.6989],[0.5964,0.4538],[0.6005,0.6606],[0.603,0.6506],[0.6056,0.5763],[0.6081,0.5687],[0.6097,0.6338],[0.6107,0.6659],[0.6117,0.6935],[0.6158,0.7395],[0.6168,0.7678],[0.6183,0.7027],[0.6209,0.6491],[0.6234,0.6759],[0.625,0.7196],[0.626,0.7349],[0.627,0.5648],[0.6285,0.7449],[0.6301,0.7395],[0.6311,0.4821],[0.6321,0.7012],[0.6336,0.7272],[0.6362,0.6146],[0.6387,0.7119],[0.6413,0.718],[0.6438,0.6223],[0.6454,0.7119],[0.6489,0.7372],[0.6515,0.7525],[0.654,0.6414],[0.6591,0.6759],[0.6678,0.7242],[0.6744,0.6966],[0.677,0.6736],[0.682,0.7372],[0.6897,0.7257],[0.6607,0.6568],[0.6132,0.6789],[0.62,0.6553]];
const f1_ll=[[0.5913,0.6629],[0.5944,0.6414],[0.5913,0.6414],[0.5979,0.6568],[0.5944,0.63],[0.603,0.6759],[0.6056,0.6491],[0.6168,0.6659],[0.6219,0.6414],[0.625,0.6583],[0.6285,0.6659],[0.6301,0.6568],[0.6311,0.6414],[0.6336,0.6682],[0.6336,0.6836],[0.6362,0.6874],[0.6387,0.6935],[0.6362,0.6583],[0.6387,0.6759],[0.6413,0.6989],[0.6423,0.6836],[0.6438,0.6736],[0.6464,0.6606],[0.6301,0.6108],[0.6336,0.6353],[0.6556,0.6606]];
const f1_acc=[[0.734,0.80],[0.734,0.7946],[0.735,0.7885],[0.733,0.7831],[0.734,0.777],[0.735,0.7717],[0.734,0.7655],[0.733,0.7602],[0.734,0.754],[0.735,0.7487],[0.734,0.7426],[0.733,0.777],[0.735,0.7602],[0.734,0.7717],[0.733,0.7885]];
const f2_naive=[[0.2544,0.7012],[0.2609,0.7678],[0.2654,0.6797],[0.27,0.7104],[0.2739,0.7165],[0.2765,0.7119],[0.2785,0.7012],[0.2752,0.6629],[0.2752,0.6491],[0.2785,0.6682],[0.283,0.6912],[0.283,0.6491],[0.285,0.7119],[0.287,0.6874],[0.2896,0.7142],[0.2915,0.6338],[0.2935,0.6606],[0.2961,0.62],[0.30,0.62],[0.3013,0.6146],[0.298,0.5802],[0.30,0.5741],[0.3013,0.5648],[0.298,0.5648],[0.3026,0.6759],[0.3046,0.7242],[0.3078,0.741],[0.3078,0.7012],[0.3111,0.6414],[0.3143,0.6659],[0.3176,0.6468],[0.3196,0.6414],[0.3222,0.7027],[0.3241,0.6874],[0.3274,0.6759],[0.3306,0.6568],[0.3326,0.7027],[0.3352,0.607],[0.3372,0.5802],[0.3404,0.63],[0.3417,0.6966],[0.3456,0.6813],[0.3469,0.7349],[0.3502,0.6797],[0.3522,0.4821],[0.3522,0.4538],[0.3535,0.5725],[0.3548,0.7525],[0.3548,0.6338],[0.3587,0.7349],[0.3632,0.7525],[0.3632,0.7012],[0.3665,0.6506],[0.3782,0.6721],[0.3828,0.7272],[0.4024,0.6261],[0.3594,0.6951]];
const f2_ll=[[0.482,0.6989],[0.486,0.6912],[0.482,0.6836],[0.488,0.6836],[0.484,0.6759],[0.490,0.6759],[0.482,0.6682],[0.488,0.6682],[0.485,0.6629],[0.490,0.6629],[0.482,0.6568],[0.487,0.6568],[0.483,0.6506],[0.489,0.6506],[0.482,0.643],[0.486,0.643],[0.493,0.6353],[0.484,0.6353],[0.487,0.63],[0.489,0.6108],[0.484,0.6955]];
const f2_acc=[[0.272,0.80],[0.283,0.7908],[0.283,0.7793],[0.285,0.7717],[0.2896,0.7831],[0.2935,0.7732],[0.2961,0.7678],[0.30,0.7655],[0.3046,0.7732],[0.3078,0.7717],[0.3111,0.7655],[0.3143,0.7793],[0.3176,0.7655],[0.3209,0.7717],[0.3241,0.7831],[0.3261,0.7732],[0.3287,0.7602],[0.3306,0.7717],[0.3339,0.7655],[0.3352,0.7755],[0.3391,0.7602],[0.3437,0.7678],[0.3456,0.754],[0.3241,0.754],[0.3196,0.7487],[0.3306,0.7487],[0.3372,0.7426],[0.2896,0.764]];
const f3_naive=[[0.673,0.7219],[0.673,0.7142],[0.674,0.6889],[0.6764,0.6659],[0.6789,0.62],[0.6838,0.6606],[0.6838,0.6966],[0.6862,0.718],[0.6897,0.7119],[0.6926,0.6736],[0.6936,0.6414],[0.6946,0.6146],[0.6985,0.6338],[0.7024,0.6414],[0.7044,0.6889],[0.7058,0.6146],[0.7093,0.7426],[0.7122,0.7295],[0.7142,0.6659],[0.7171,0.6629],[0.7191,0.6759],[0.723,0.7142],[0.7269,0.6966],[0.7303,0.6759],[0.7328,0.6553],[0.7367,0.6414],[0.7181,0.7395],[0.7206,0.7272],[0.7182,0.6759],[0.723,0.6721],[0.7276,0.6568],[0.7314,0.6491],[0.737,0.6338],[0.7486,0.7142],[0.75,0.6644],[0.7532,0.6682],[0.7566,0.7525],[0.7556,0.7066],[0.7602,0.5993],[0.7626,0.6989],[0.764,0.7372],[0.7658,0.5817],[0.7672,0.7655],[0.7686,0.5763],[0.7696,0.7104],[0.7706,0.6736],[0.7742,0.5633],[0.779,0.5687],[0.7826,0.571],[0.786,0.5725],[0.793,0.4806],[0.7952,0.7043],[0.8148,0.5702],[0.8162,0.6261],[0.82,0.7004],[0.8218,0.4538],[0.8256,0.5779],[0.8396,0.7349],[0.8406,0.7142],[0.8498,0.7242]];
const f3_ll=[[0.7626,0.6108],[0.7686,0.6736],[0.7696,0.6606],[0.7686,0.6414],[0.7706,0.6491],[0.772,0.6629],[0.7734,0.6353],[0.7742,0.6568],[0.7766,0.6629],[0.779,0.6912],[0.7799,0.6759],[0.7813,0.6836],[0.7813,0.6721],[0.7826,0.6583],[0.7836,0.643],[0.7826,0.63],[0.786,0.6966],[0.786,0.6659],[0.7874,0.6797],[0.793,0.6851],[0.7939,0.6736],[0.792,0.6506],[0.765,0.6553],[0.766,0.6414]];
const f3_acc=[[0.8092,0.7793],[0.8139,0.7701],[0.8153,0.7602],[0.8172,0.7487],[0.8186,0.7831],[0.8209,0.7732],[0.8218,0.764],[0.8232,0.7563],[0.8246,0.7678],[0.8256,0.7502],[0.8265,0.7793],[0.8279,0.7678],[0.8302,0.7717],[0.8326,0.7831],[0.834,0.7962],[0.8358,0.7655],[0.8372,0.7732],[0.8396,0.764],[0.8433,0.7985],[0.8466,0.7793],[0.8498,0.7908],[0.8186,0.764],[0.8139,0.7563]];

// (g) StrategyQA set 1
const g_yTicks=[0.70,0.72,0.74,0.76,0.78,0.80];
const g1_xTicks=[0.25,0.30,0.35,0.40,0.45], g2_xTicks=[0.30,0.35,0.40,0.45,0.50,0.55], g3_xTicks=[0.66,0.68,0.70,0.72,0.74];
const g1_naive=[[0.2164,0.7348],[0.2479,0.7235],[0.2521,0.7235],[0.2486,0.77],[0.2593,0.7267],[0.2607,0.7235],[0.2714,0.7487],[0.2714,0.7431],[0.2736,0.7622],[0.2786,0.7307],[0.2807,0.7739],[0.2821,0.7077],[0.2857,0.7077],[0.2879,0.7622],[0.2893,0.755],[0.2907,0.7386],[0.2928,0.715],[0.2928,0.755],[0.2964,0.7505],[0.2979,0.7622],[0.30,0.746],[0.3021,0.7656],[0.305,0.7386],[0.305,0.7235],[0.3071,0.7813],[0.3107,0.7656],[0.3121,0.7235],[0.3121,0.6992],[0.3164,0.6992],[0.3179,0.7581],[0.3193,0.7424],[0.3214,0.7348],[0.325,0.7307],[0.3264,0.77],[0.3286,0.7235],[0.33,0.7307],[0.3321,0.7267],[0.3336,0.7348],[0.3357,0.7498],[0.3357,0.7037],[0.3407,0.7267],[0.345,0.7077],[0.3464,0.7424],[0.35,0.7386],[0.3536,0.6992],[0.3571,0.7386],[0.3607,0.7424],[0.3621,0.7267],[0.3643,0.7077],[0.3679,0.7386],[0.3714,0.7424],[0.3764,0.7348],[0.3857,0.7424],[0.3929,0.7267],[0.3964,0.6958],[0.4214,0.7543],[0.35,0.7694],[0.2786,0.7464]];
const g1_ll=[[0.2143,0.7348],[0.225,0.7424],[0.2307,0.7386],[0.2286,0.7267],[0.2407,0.7424],[0.2429,0.7348],[0.245,0.7307],[0.2464,0.746],[0.2464,0.7505],[0.2479,0.755],[0.25,0.7424],[0.2521,0.755],[0.2521,0.746],[0.2607,0.7656],[0.2643,0.755],[0.2643,0.7505],[0.2643,0.7348],[0.2736,0.7897],[0.275,0.7858],[0.2786,0.77],[0.2807,0.7656],[0.2836,0.77],[0.2928,0.7977],[0.2964,0.7937],[0.2928,0.778],[0.30,0.7739],[0.2979,0.7656],[0.3036,0.7775],[0.3143,0.7858],[0.3179,0.778],[0.3057,0.7739]];
const g1_acc=[[0.465,0.7618],[0.468,0.7618],[0.466,0.76],[0.467,0.7577],[0.465,0.755],[0.469,0.755],[0.465,0.7528],[0.464,0.7505],[0.468,0.7505],[0.466,0.7487],[0.470,0.746],[0.466,0.7438],[0.469,0.7408],[0.466,0.7386],[0.471,0.7386],[0.465,0.737],[0.466,0.7348],[0.469,0.7348],[0.466,0.7307],[0.465,0.7235],[0.468,0.7235],[0.468,0.7217],[0.467,0.719],[0.468,0.7154],[0.465,0.7075],[0.466,0.7033]];
const g2_naive=[[0.3014,0.742],[0.3057,0.7581],[0.3179,0.7505],[0.32,0.7348],[0.3286,0.7348],[0.3321,0.755],[0.3343,0.746],[0.3429,0.778],[0.3429,0.77],[0.3429,0.7077],[0.3429,0.6992],[0.35,0.7656],[0.3536,0.7386],[0.3607,0.7267],[0.3629,0.7235],[0.3657,0.7464],[0.3679,0.7307],[0.37,0.7464],[0.37,0.6958],[0.375,0.7505],[0.3786,0.7739],[0.3821,0.7077],[0.3857,0.7235],[0.3964,0.7424],[0.3986,0.7348],[0.4014,0.7348],[0.4014,0.6992],[0.4036,0.7813],[0.4057,0.7622],[0.4071,0.7505],[0.4071,0.7267],[0.4107,0.7267],[0.4107,0.7077],[0.4143,0.7037],[0.4179,0.7386],[0.425,0.7307],[0.4286,0.7307],[0.4286,0.7424],[0.4321,0.7464],[0.4343,0.7656],[0.4357,0.7348],[0.4371,0.7235],[0.4393,0.7739],[0.4414,0.77],[0.4429,0.7235],[0.4443,0.7348],[0.4443,0.6992],[0.4486,0.7464],[0.45,0.7656],[0.4536,0.7622],[0.4571,0.7424],[0.4571,0.755],[0.4629,0.755],[0.4871,0.7235]];
const g2_ll=[[0.545,0.7977],[0.545,0.7937],[0.545,0.7897],[0.545,0.7858],[0.543,0.778],[0.546,0.778],[0.545,0.7739],[0.545,0.77],[0.543,0.7656],[0.545,0.755],[0.547,0.755],[0.545,0.7528],[0.543,0.7505],[0.547,0.7505],[0.545,0.7464],[0.543,0.7424],[0.547,0.7424],[0.545,0.7386],[0.545,0.7348],[0.545,0.7307],[0.545,0.7267]];
const g2_acc=[[0.2893,0.755],[0.2929,0.7505],[0.2943,0.7386],[0.3014,0.7348],[0.3036,0.7581],[0.3036,0.7307],[0.3071,0.755],[0.3086,0.7464],[0.3107,0.7037],[0.3143,0.755],[0.3179,0.7424],[0.3179,0.7348],[0.32,0.755],[0.3214,0.7622],[0.3229,0.7386],[0.3229,0.7235],[0.325,0.7348],[0.325,0.7077],[0.3271,0.715],[0.3286,0.755],[0.33,0.7348],[0.3321,0.7235],[0.3343,0.7505],[0.3371,0.7505],[0.3393,0.7235],[0.3429,0.719],[0.3464,0.755],[0.3464,0.7235],[0.3571,0.7505],[0.3643,0.7505],[0.3821,0.7622]];
const g3_naive=[[0.6486,0.7581],[0.651,0.7424],[0.6516,0.746],[0.6564,0.7235],[0.6606,0.7267],[0.6615,0.7739],[0.663,0.778],[0.6645,0.77],[0.6645,0.7656],[0.666,0.7622],[0.6666,0.755],[0.6684,0.755],[0.669,0.7307],[0.6696,0.6992],[0.672,0.7739],[0.6726,0.7505],[0.6744,0.7617],[0.6749,0.7235],[0.6773,0.7386],[0.6779,0.7077],[0.6785,0.7077],[0.6803,0.6992],[0.6809,0.7424],[0.6815,0.7464],[0.6824,0.7348],[0.6833,0.755],[0.6839,0.7307],[0.6854,0.7267],[0.6863,0.7235],[0.6869,0.7813],[0.6875,0.7464],[0.6884,0.77],[0.6893,0.755],[0.6905,0.7424],[0.6914,0.7235],[0.6929,0.7348],[0.6959,0.7348],[0.6974,0.715],[0.6989,0.7077],[0.6995,0.7235],[0.7019,0.7656],[0.7034,0.7077],[0.7063,0.7656],[0.7084,0.7424],[0.7108,0.7386],[0.7114,0.7307],[0.7153,0.7622],[0.7192,0.755],[0.7198,0.7656],[0.7228,0.6992],[0.7243,0.6958],[0.7258,0.7037],[0.7258,0.7386],[0.7264,0.7348],[0.7312,0.7424],[0.7324,0.7235]];
const g3_ll=[[0.7228,0.7977],[0.7258,0.7858],[0.7273,0.746],[0.7288,0.7897],[0.7303,0.7937],[0.7303,0.7858],[0.7294,0.778],[0.7318,0.778],[0.7288,0.7656],[0.7377,0.7739],[0.7392,0.77],[0.7371,0.7656],[0.7401,0.7656],[0.7377,0.755],[0.7362,0.7424],[0.7392,0.7348],[0.7422,0.7464],[0.7443,0.7424],[0.7467,0.755],[0.7482,0.7505],[0.7497,0.755],[0.7497,0.7424],[0.7512,0.7505],[0.7512,0.7348],[0.7503,0.7307],[0.7512,0.7267],[0.7533,0.7505],[0.7527,0.7424],[0.7431,0.7424]];
const g3_acc=[[0.6654,0.755],[0.6684,0.7505],[0.6696,0.755],[0.6714,0.746],[0.6735,0.7581],[0.6749,0.755],[0.6794,0.755],[0.6839,0.7348],[0.6893,0.7505],[0.6869,0.7307],[0.6884,0.7307],[0.6929,0.755],[0.6935,0.7505],[0.6944,0.7424],[0.6935,0.7154],[0.6944,0.7348],[0.6953,0.7235],[0.6959,0.7622],[0.6965,0.7348],[0.6983,0.7505],[0.6995,0.7235],[0.7004,0.7307],[0.7013,0.719],[0.7025,0.755],[0.7049,0.7235],[0.7084,0.7037],[0.7138,0.7235],[0.7213,0.7077]];

// (h) StrategyQA set 2
const h_yTicks=[0.64,0.66,0.68,0.70,0.72,0.74,0.76];
const h1_xTicks=[0.20,0.30,0.40], h2_xTicks=[0.25,0.30,0.35,0.40,0.45], h3_xTicks=[0.62,0.64,0.66,0.68,0.70];
const h1_naive=[[0.1419,0.7229],[0.1533,0.7508],[0.1621,0.6956],[0.1648,0.7229],[0.1736,0.7661],[0.1736,0.7034],[0.1797,0.7145],[0.1868,0.7067],[0.1885,0.7541],[0.193,0.7067],[0.1947,0.7541],[0.1974,0.7229],[0.20,0.7438],[0.2018,0.7117],[0.2062,0.7541],[0.2088,0.7159],[0.2106,0.7034],[0.2123,0.7508],[0.215,0.7354],[0.2176,0.7173],[0.2194,0.7508],[0.2238,0.7438],[0.2282,0.7112],[0.2326,0.6922],[0.2352,0.7382],[0.237,0.7508],[0.2388,0.7341],[0.2414,0.7112],[0.244,0.7597],[0.2458,0.748],[0.2476,0.7541],[0.2502,0.7661],[0.2529,0.6833],[0.2546,0.7438],[0.259,0.6956],[0.2617,0.748],[0.2705,0.7592],[0.2793,0.7592],[0.2766,0.7229],[0.2811,0.7034],[0.2854,0.7271],[0.2881,0.7313],[0.2916,0.7271],[0.2987,0.6908],[0.3031,0.7508],[0.3057,0.7424],[0.3075,0.7271],[0.3145,0.7313],[0.3181,0.6992],[0.3251,0.7034],[0.3251,0.7424],[0.2881,0.7346]];
const h1_ll=[[0.237,0.6978],[0.2414,0.7117],[0.2414,0.7159],[0.2458,0.7215],[0.2502,0.7285],[0.2546,0.7299],[0.2546,0.7346],[0.2546,0.7382],[0.259,0.7229],[0.2617,0.7438],[0.2634,0.7396],[0.2652,0.7313],[0.2678,0.7402],[0.2705,0.7466],[0.2722,0.7354],[0.274,0.7271],[0.2766,0.7327],[0.2793,0.7382],[0.2678,0.7536],[0.2564,0.7578],[0.259,0.7661],[0.2564,0.7508],[0.2502,0.7452],[0.2458,0.741],[0.2546,0.7201],[0.2282,0.7117]];
const h1_acc=[[0.447,0.707],[0.452,0.7034],[0.447,0.70],[0.452,0.70],[0.447,0.695],[0.452,0.695],[0.447,0.6908],[0.454,0.6908],[0.447,0.688],[0.452,0.688],[0.447,0.6838],[0.447,0.6802],[0.452,0.6802],[0.456,0.6802],[0.461,0.6802],[0.447,0.676],[0.452,0.676],[0.457,0.676],[0.447,0.6727],[0.447,0.6637],[0.449,0.6598],[0.447,0.6559],[0.455,0.6448],[0.447,0.6398]];
const h2_naive=[[0.2595,0.7307],[0.2632,0.7508],[0.2684,0.7541],[0.2711,0.7661],[0.2737,0.7307],[0.2763,0.7112],[0.2774,0.7145],[0.279,0.6992],[0.2816,0.7229],[0.2858,0.7067],[0.2869,0.7034],[0.2879,0.7229],[0.2895,0.7382],[0.2921,0.7271],[0.2932,0.7661],[0.2947,0.7271],[0.2963,0.7586],[0.2974,0.7502],[0.30,0.7229],[0.3026,0.7541],[0.3052,0.7112],[0.3052,0.7229],[0.3079,0.7067],[0.3089,0.7307],[0.3121,0.7424],[0.3142,0.7592],[0.3158,0.7661],[0.3173,0.7592],[0.3194,0.7229],[0.321,0.7187],[0.3236,0.6922],[0.3278,0.7508],[0.3289,0.7354],[0.3315,0.7335],[0.3342,0.7424],[0.3368,0.7541],[0.3394,0.7508],[0.3405,0.7034],[0.3436,0.743],[0.3447,0.7508],[0.3457,0.695],[0.3473,0.6833],[0.3489,0.7424],[0.35,0.695],[0.3526,0.6922],[0.3526,0.7466],[0.3552,0.7466],[0.3563,0.7508],[0.3578,0.7229],[0.3594,0.695],[0.3605,0.7145],[0.3615,0.6922],[0.3631,0.7424],[0.3657,0.7541],[0.3668,0.7586],[0.3805,0.7424],[0.3999,0.7346]];
const h2_ll=[[0.448,0.7661],[0.448,0.7586],[0.449,0.7541],[0.447,0.7502],[0.451,0.7502],[0.449,0.7458],[0.447,0.7419],[0.450,0.7419],[0.448,0.7382],[0.452,0.7382],[0.447,0.7346],[0.450,0.7346],[0.448,0.7307],[0.451,0.7307],[0.447,0.7271],[0.453,0.7271],[0.449,0.7229],[0.453,0.7229],[0.447,0.7196],[0.451,0.7159],[0.448,0.7112],[0.450,0.7229]];
const h2_acc=[[0.3052,0.688],[0.3105,0.688],[0.3131,0.6755],[0.3158,0.6615],[0.3173,0.688],[0.3194,0.6755],[0.3236,0.6448],[0.3263,0.695],[0.3278,0.6838],[0.3289,0.676],[0.3299,0.6727],[0.3315,0.6922],[0.3331,0.676],[0.3342,0.6796],[0.3352,0.695],[0.3368,0.676],[0.3384,0.6398],[0.3394,0.6671],[0.342,0.688],[0.3447,0.6838],[0.3457,0.695],[0.3489,0.6796],[0.35,0.7067],[0.351,0.6916],[0.3526,0.695],[0.3552,0.6559],[0.3578,0.6755],[0.3594,0.6727],[0.3605,0.6643],[0.3631,0.688],[0.3647,0.6699],[0.3762,0.6922],[0.3815,0.6805],[0.3184,0.6838]];
const h3_naive=[[0.62,0.7541],[0.6264,0.7661],[0.6285,0.7229],[0.6338,0.7424],[0.6343,0.7307],[0.6378,0.7307],[0.6396,0.7541],[0.6396,0.7502],[0.6396,0.7424],[0.6404,0.7229],[0.6412,0.7112],[0.6423,0.7229],[0.6431,0.7151],[0.6444,0.7382],[0.6449,0.7034],[0.647,0.7661],[0.6484,0.7661],[0.6476,0.7307],[0.6484,0.7271],[0.6492,0.7229],[0.6492,0.7112],[0.6502,0.7034],[0.6502,0.6916],[0.6518,0.6992],[0.655,0.743],[0.6563,0.7346],[0.6603,0.7541],[0.6616,0.7508],[0.6629,0.7466],[0.6624,0.7089],[0.6635,0.7112],[0.6643,0.7034],[0.6656,0.7424],[0.6661,0.7307],[0.6661,0.695],[0.6677,0.6838],[0.6696,0.695],[0.6709,0.7382],[0.6714,0.695],[0.6722,0.7307],[0.6735,0.7502],[0.6741,0.7424],[0.6756,0.7466],[0.6762,0.7382],[0.6775,0.7541],[0.6783,0.7466],[0.6749,0.7307],[0.6794,0.7229],[0.6815,0.6916],[0.6889,0.7346],[0.6696,0.7611]];
const h3_ll=[[0.6926,0.7187],[0.6934,0.7112],[0.6947,0.7271],[0.6969,0.7229],[0.6987,0.7307],[0.70,0.7346],[0.7014,0.7271],[0.7027,0.7307],[0.704,0.7382],[0.7048,0.7271],[0.7053,0.7424],[0.7059,0.7346],[0.7067,0.7229],[0.7075,0.7187],[0.708,0.7382],[0.7085,0.7502],[0.7093,0.7307],[0.7101,0.7346],[0.7106,0.7424],[0.7112,0.7271],[0.712,0.7229],[0.7128,0.7661],[0.7133,0.7541],[0.7146,0.7382],[0.7154,0.7307],[0.7173,0.7229],[0.7159,0.7466],[0.708,0.7187]];
const h3_acc=[[0.6696,0.688],[0.6749,0.695],[0.6762,0.6838],[0.6775,0.6755],[0.6788,0.6755],[0.6794,0.6796],[0.6802,0.688],[0.6815,0.695],[0.682,0.7034],[0.6836,0.7067],[0.6841,0.6992],[0.6847,0.6755],[0.6855,0.688],[0.6863,0.6671],[0.6868,0.6727],[0.6873,0.6916],[0.6881,0.6615],[0.6889,0.6796],[0.6894,0.7034],[0.6908,0.695],[0.6916,0.6838],[0.6921,0.6559],[0.6934,0.6796],[0.6947,0.688],[0.6974,0.695],[0.6995,0.6796],[0.7027,0.688],[0.704,0.6916],[0.6788,0.6448],[0.6961,0.6398],[0.6828,0.6838]];

// ---------------- FIGURE SPEC ----------------
const FIGS = [
 {cap:'(a) GSM: random exemplar set 1.', col:0,row:0, y:[0.5496,0.6704], yT:a_yTicks, leg:'ul', r:['0.529','-0.402','-0.402'], pur:[1,0,0],
  p:[{x:[0.3226,0.5464],t:a1_xTicks,d:[a1_naive,a1_ll,a1_acc]},{x:[0.4231,0.608],t:a2_xTicks,d:[a2_naive,a2_ll,a2_acc]},{x:[0.7453,0.8228],t:a3_xTicks,d:[a3_naive,a3_ll,a3_acc]}]},
 {cap:'(b) GSM: random exemplar set 2.', col:1,row:0, y:[0.5245,0.6793], yT:b_yTicks, leg:'lr', r:['0.549','0.426','0.426'], pur:[1,1,1],
  p:[{x:[0.4032,0.622],t:b1_xTicks,d:[b1_naive,b1_ll,b1_acc]},{x:[0.4521,0.6577],t:b2_xTicks,d:[b2_naive,b2_ll,b2_acc]},{x:[0.7453,0.8235],t:b3_xTicks,d:[b3_naive,b3_ll,b3_acc]}]},
 {cap:'(c) ECQA: random exemplar set 1.', col:0,row:1, y:[0.5837,0.7864], yT:c_yTicks, yL:c_yLabels, leg:'ul', r:['0.550','0.547','0.547'], pur:[1,1,1],
  p:[{x:[0.4926,0.785],t:c1_xTicks,d:[c1_naive,c1_ll,c1_acc]},{x:[0.2954,0.5553],t:c2_xTicks,d:[c2_naive,c2_ll,c2_acc]},{x:[0.6511,0.8193],t:c3_xTicks,d:[c3_naive,c3_ll,c3_acc]}]},
 {cap:'(d) ECQA: random exemplar set 2.', col:1,row:1, y:[0.7387,0.8204], yT:d_yTicks, leg:'lr', r:['0.625','0.579','0.579'], pur:[1,1,1],
  p:[{x:[0.7618,0.8785],t:d1_xTicks,l:d1_xLabels,d:[d1_naive,d1_ll,d1_acc]},{x:[0.2042,0.6142],t:d2_xTicks,d:[d2_naive,d2_ll,d2_acc]},{x:[0.6547,0.923],t:d3_xTicks,d:[d3_naive,d3_ll,d3_acc]}]},
 {cap:'(e) <span class="sc">e-SNLI</span>: random exemplar set 1.', col:0,row:2, y:[0.5822,0.8771], yT:e_yTicks, leg:'lr', r:['0.490','0.334','0.334'], pur:[1,1,1],
  p:[{x:[0.4099,0.6412],t:e1_xTicks,d:[e1_naive,e1_ll,e1_acc]},{x:[0.2067,0.5333],t:e2_xTicks,d:[e2_naive,e2_ll,e2_acc]},{x:[0.6191,0.8277],t:e3_xTicks,d:[e3_naive,e3_ll,e3_acc]}]},
 {cap:'(f) <span class="sc">e-SNLI</span>: random exemplar set 2.', col:1,row:2, y:[0.4331,0.8161], yT:f_yTicks, leg:'lr', r:['0.700','-0.260','-0.260'], pur:[1,0,0],
  p:[{x:[0.5418,0.7443],t:f1_xTicks,d:[f1_naive,f1_ll,f1_acc]},{x:[0.2439,0.5034],t:f2_xTicks,d:[f2_naive,f2_ll,f2_acc]},{x:[0.6632,0.8578],t:f3_xTicks,d:[f3_naive,f3_ll,f3_acc]}]},
 {cap:'(g) <span class="sc">StrategyQA</span>: random exemplar set 1.', col:0,row:3, y:[0.6902,0.8023], yT:g_yTicks, leg:'ur', r:['-0.170','0.359','0.359'], pur:[0,1,1],
  p:[{x:[0.2036,0.4835],t:g1_xTicks,d:[g1_naive,g1_ll,g1_acc]},{x:[0.2807,0.5606],t:g2_xTicks,d:[g2_naive,g2_ll,g2_acc]},{x:[0.643,0.7602],t:g3_xTicks,d:[g3_naive,g3_ll,g3_acc]}]},
 {cap:'(h) <span class="sc">StrategyQA</span>: random exemplar set 2.', col:1,row:3, y:[0.6336,0.7726], yT:h_yTicks, leg:'ll', r:['-0.718','0.134','0.134'], pur:[0,0,0],
  p:[{x:[0.1269,0.4766],t:h1_xTicks,d:[h1_naive,h1_ll,h1_acc]},{x:[0.2511,0.4604],t:h2_xTicks,d:[h2_naive,h2_ll,h2_acc]},{x:[0.6147,0.7199],t:h3_xTicks,d:[h3_naive,h3_ll,h3_acc]}]}
];

// ---------------- LAYOUT / STYLE ----------------
const COL_BOX=[[[42,181],[210,349],[376,515]],[[630,769],[797,937],[964,1104]]];
const ROW_BOX=[[15,181],[266,432],[516,682],[766,932]];
const CAP_Y=[233,480,730,982], CAP_X=[264,852];
const COLORS=['#808080','#0000ff','#ffa500'];
const PURPLE='#800080';
Chart.defaults.font.family="'DejaVu Sans', sans-serif";

const framePlugin={id:'frame',afterDatasetsDraw(chart){const {ctx,chartArea:a}=chart;ctx.save();ctx.strokeStyle='#8c8c8c';ctx.lineWidth=1;ctx.strokeRect(a.left-0.5,a.top-0.5,a.right-a.left+1,a.bottom-a.top+1);ctx.restore();}};
const legendPlugin={id:'miniLegend',afterDraw(chart,args,o){
  if(!o||!o.show)return;
  const ctx=chart.ctx,a=chart.chartArea,W=60,H=40;
  const x=o.pos[1]==='l'?a.left+4.5:a.right-4.5-W;
  const y=o.pos[0]==='u'?a.top+4.5:a.bottom-4.5-H;
  ctx.save();
  ctx.beginPath();
  if(ctx.roundRect)ctx.roundRect(x,y,W,H,2.5);else ctx.rect(x,y,W,H);
  ctx.fillStyle='rgba(255,255,255,0.85)';ctx.fill();
  ctx.strokeStyle='#d0d0d0';ctx.lineWidth=1;ctx.stroke();
  ctx.font="8.5px 'DejaVu Sans'";ctx.textBaseline='middle';ctx.textAlign='left';
  seriesNames.forEach((n,i)=>{const cy=y+8+i*12;ctx.beginPath();ctx.arc(x+11.5,cy,2.4,0,Math.PI*2);ctx.fillStyle=COLORS[i];ctx.fill();ctx.fillStyle='#111';ctx.fillText(n,x+25,cy+0.5);});
  ctx.restore();}};

FIGS.forEach(fig=>{
  fig.p.forEach((pan,pi)=>{
    const [bl,br]=COL_BOX[fig.col][pi];
    const [bt,bb]=ROW_BOX[fig.row];
    const L=pi===0?40:30, R=pi===2?(fig.col===1?0:3):3, T=16, B=26;
    const w=br-bl+L+R, h=bb-bt+T+B;
    const cv=document.createElement('canvas');
    cv.width=w;cv.height=h;
    cv.style.left=(bl-L)+'px';cv.style.top=(bt-T)+'px';cv.style.width=w+'px';cv.style.height=h+'px';
    document.body.appendChild(cv);
    const xLabels=pan.l||pan.t.map(v=>v.toFixed(2));
    const yLabels=fig.yL||fig.yT.map(v=>v.toFixed(2));
    const datasets=[2,1,0].map((si,k)=>({label:seriesNames[si],data:pan.d[si].map(p=>({x:p[0],y:p[1]})),
      backgroundColor:COLORS[si],borderWidth:0,pointRadius:2.4,pointHoverRadius:2.4,order:k}));
    new Chart(cv,{type:'scatter',data:{datasets},plugins:[framePlugin,legendPlugin],
      options:{responsive:false,animation:false,events:[],devicePixelRatio:1,
        layout:{padding:{left:0,right:R,top:0,bottom:0},autoPadding:false},
        plugins:{legend:{display:false},tooltip:{enabled:false},
          title:{display:true,text:'Pearson: '+fig.r[pi],color:fig.pur[pi]?PURPLE:'#000',font:{size:10,weight:'normal'},padding:{top:3,bottom:1},fullSize:false},
          miniLegend:{show:pi===0,pos:fig.leg}},
        scales:{
          x:{type:'linear',bounds:'data',min:pan.x[0],max:pan.x[1],
            afterBuildTicks:s=>{s.ticks=pan.t.map(v=>({value:v}));},
            afterFit:s=>{s.height=B;s.paddingLeft=0;s.paddingRight=0;},
            ticks:{autoSkip:false,maxRotation:0,minRotation:0,padding:0,font:{size:8},color:'#1a1a1a',callback:(v,i)=>xLabels[i]},
            grid:{drawOnChartArea:false,drawTicks:true,tickLength:3,color:'#8c8c8c'},border:{display:false},
            title:{display:true,text:xTitles[pi],font:{size:10},color:'#111',padding:{top:0,bottom:1.5}}},
          y:{type:'linear',bounds:'data',min:fig.y[0],max:fig.y[1],
            afterBuildTicks:s=>{s.ticks=fig.yT.map(v=>({value:v}));},
            afterFit:s=>{s.width=L;s.paddingTop=0;s.paddingBottom=0;},
            ticks:{autoSkip:false,padding:3,font:{size:8},color:'#1a1a1a',callback:(v,i)=>yLabels[i]},
            grid:{drawOnChartArea:false,drawTicks:true,tickLength:3,color:'#8c8c8c'},border:{display:false},
            title:{display:pi===0,text:'Downstream Acc',font:{size:10},color:'#111',padding:{top:5,bottom:0}}}
        }}});
  });
  const cap=document.createElement('div');
  cap.className='cap';cap.innerHTML=fig.cap;
  cap.style.left=CAP_X[fig.col]+'px';cap.style.top=(CAP_Y[fig.row]-16)+'px';
  document.body.appendChild(cap);
});
</script>
</body></html>
